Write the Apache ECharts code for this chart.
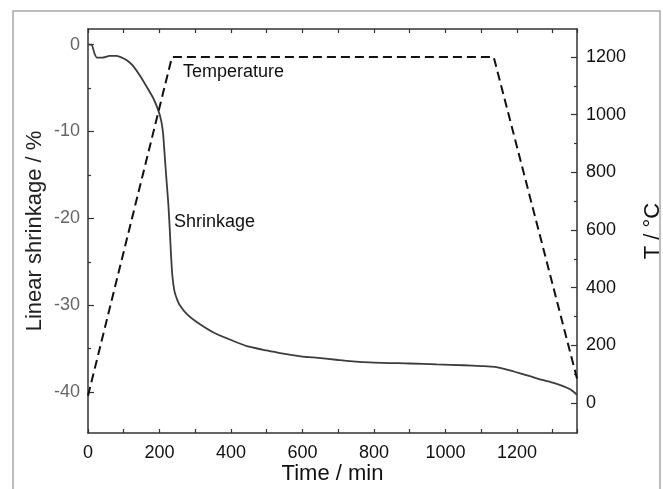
<!DOCTYPE html>
<html>
<head>
<meta charset="utf-8">
<script src="https://cdn.jsdelivr.net/npm/echarts@6/dist/echarts.min.js"></script>
<style>
  html, body { margin: 0; padding: 0; background: #fff; }
  #chart { width: 663px; height: 489px; }
</style>
</head>
<body>
<div id="chart"></div>
<script>
// shrinkage curve
const timeMin = [0, 10, 18, 25, 40, 60, 80, 100, 115, 127, 146, 165, 183, 197, 205, 210, 215, 220, 225, 229, 232, 236, 242, 250, 257, 276, 300, 350, 400, 444, 500, 537, 600, 630, 700, 724, 800, 900, 976, 1050, 1100, 1138, 1180, 1255, 1300, 1329, 1350, 1368]
const shrinkage = [0, 0, -1.0, -1.5, -1.5, -1.3, -1.3, -1.6, -2.0, -2.5, -3.6, -4.9, -6.2, -7.6, -8.8, -10.2, -13.0, -15.8, -18.5, -21.5, -24.0, -26.6, -28.4, -29.4, -30.0, -31.0, -31.8, -33.1, -34.0, -34.7, -35.2, -35.5, -35.9, -36.0, -36.3, -36.4, -36.6, -36.7, -36.8, -36.9, -37.0, -37.1, -37.5, -38.4, -38.9, -39.3, -39.7, -40.3]
// temperature program
const tempTime = [0, 235, 1135, 1370]
const tempValues = [25, 1200, 1200, 75]
// tick labels
const leftMajor = [0, -10, -20, -30, -40]
const leftMinor = [-5, -15, -25, -35]
const rightMajor = [0, 200, 400, 600, 800, 1000, 1200]
const rightMinor = [100, 300, 500, 700, 900, 1100]

const font = 'Liberation Sans, Arial, sans-serif'
const axisLine = { show: true, onZero: false, lineStyle: { color: '#333', width: 1.5 } }
const noLine = { show: false, onZero: false }
const tickStyle = { color: '#333', width: 1.2 }
const chart = echarts.init(document.getElementById('chart'))

const option = {
  animation: false,
  textStyle: { fontFamily: font },
  grid: { left: 88, right: 86, top: 29, bottom: 56, outerBoundsMode: 'none', containLabel: false },
  graphic: [
    {
      type: 'rect',
      shape: { x: 13, y: 11, width: 647, height: 500 },
      style: { fill: 'none', stroke: '#a8a8a8', lineWidth: 1.5 },
      silent: true
    },
    {
      type: 'text', left: 183, top: 63,
      style: { text: 'Temperature', font: '18px ' + font, fill: '#111' }
    },
    {
      type: 'text', left: 174, top: 213,
      style: { text: 'Shrinkage', font: '18px ' + font, fill: '#111' }
    }
  ],
  xAxis: [
    {
      type: 'value', min: 0, max: 1368, interval: 100,
      axisLine,
      splitLine: { show: false },
      axisTick: { inside: true, length: 4, lineStyle: tickStyle },
      axisLabel: {
        fontSize: 18, color: '#111', margin: 11,
        formatter: (v) => (v % 200 === 0 ? String(v) : '')
      },
      name: 'Time / min', nameLocation: 'middle', nameGap: 30, nameMoveOverlap: false,
      nameTextStyle: { fontSize: 22, color: '#111' }
    },
    {
      type: 'value', position: 'top', min: 0, max: 1368, interval: 100,
      axisLine,
      splitLine: { show: false },
      axisTick: { inside: true, length: 4, lineStyle: tickStyle },
      axisLabel: { show: false }
    }
  ],
  yAxis: [
    {
      type: 'value', min: -44.7, max: 1.8, position: 'left',
      axisLine,
      splitLine: { show: false },
      axisTick: { inside: true, length: 6, customValues: leftMajor, lineStyle: tickStyle },
      axisLabel: { fontSize: 18, color: '#666', margin: 8, customValues: leftMajor, formatter: (v) => String(v) },
      name: 'Linear shrinkage / %', nameLocation: 'middle', nameGap: 42, nameRotate: 90, nameMoveOverlap: false,
      nameTextStyle: { fontSize: 22, color: '#222' }
    },
    {
      type: 'value', min: -104, max: 1297, position: 'right',
      axisLine,
      splitLine: { show: false },
      axisTick: { inside: true, length: 6, customValues: rightMajor, lineStyle: tickStyle },
      axisLabel: { fontSize: 18, color: '#111', margin: 9, customValues: rightMajor, formatter: (v) => String(v) },
      name: 'T / °C', nameLocation: 'middle', nameGap: 65, nameRotate: 90, nameMoveOverlap: false,
      nameTextStyle: { fontSize: 22, color: '#111' }
    },
    {
      type: 'value', min: -44.7, max: 1.8, position: 'left',
      axisLine: noLine,
      splitLine: { show: false },
      axisTick: { inside: true, length: 3, customValues: leftMinor, lineStyle: tickStyle },
      axisLabel: { show: false }
    },
    {
      type: 'value', min: -104, max: 1297, position: 'right',
      axisLine: noLine,
      splitLine: { show: false },
      axisTick: { inside: true, length: 3, customValues: rightMinor, lineStyle: tickStyle },
      axisLabel: { show: false }
    }
  ],
  series: [
    {
      name: 'Shrinkage', type: 'line', xAxisIndex: 0, yAxisIndex: 0,
      data: timeMin.map((t, i) => [t, shrinkage[i]]),
      showSymbol: false, smooth: 0.2,
      lineStyle: { color: '#3c3c3c', width: 1.8 }
    },
    {
      name: 'Temperature', type: 'line', xAxisIndex: 0, yAxisIndex: 1,
      data: tempTime.map((t, i) => [t, tempValues[i]]),
      showSymbol: false,
      lineStyle: { color: '#111', width: 2, type: [9, 5] }
    }
  ]
}
chart.setOption(option)
</script>
</body>
</html>
